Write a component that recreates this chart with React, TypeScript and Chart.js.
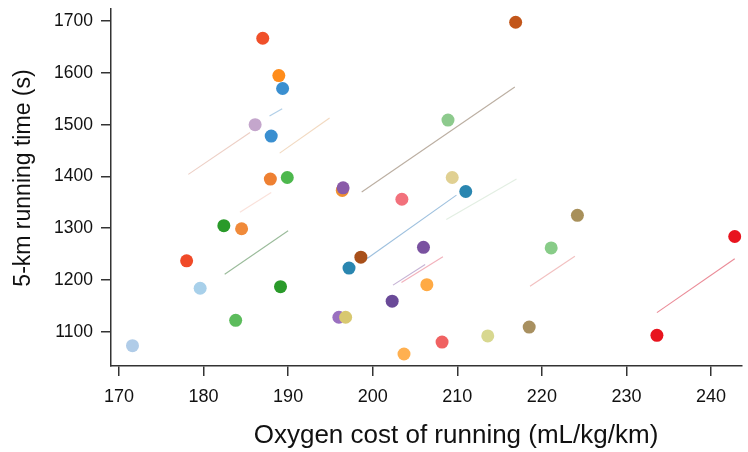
import React, { useEffect, useRef } from "react";
import { Chart, registerables } from "chart.js";

Chart.register(...registerables);

// Individual observations: oxygen cost (mL/kg/km) vs 5-km time (s)
const pointX = [187.0, 188.9, 189.35, 186.1, 188.0, 187.9, 189.9, 196.4, 196.5, 203.45, 216.9, 208.9, 209.4, 211.0, 182.4, 184.5, 178.0, 179.6, 189.1, 183.8, 171.6, 198.6, 197.2, 206.0, 206.4, 202.3, 196.0, 196.8, 203.7, 224.2, 221.1, 242.8, 233.6, 208.2, 213.6, 218.5];
const pointY = [1667, 1595, 1570, 1500, 1478, 1395, 1398, 1373, 1378, 1356, 1698, 1509, 1398, 1371, 1305, 1299, 1237, 1184, 1187, 1122, 1073, 1244, 1223, 1263, 1191, 1159, 1128, 1128, 1057, 1325, 1262, 1284, 1093, 1080, 1092, 1109];
const pointColors = ["#f0502a", "#ff8c1a", "#3a8fd0", "#c4a6cc", "#3a8fd0", "#ee8032", "#4db84d", "#f09030", "#8a5aa8", "#f2717c", "#c2561a", "#8dca8d", "#e0d092", "#2a86b0", "#2a9a2a", "#f08a3a", "#f04a28", "#a8d0ea", "#2a9a2a", "#5cbc5c", "#b0cce8", "#a8501a", "#2a86b0", "#7a52a0", "#ffaa44", "#6a4a98", "#9a70c0", "#d8c870", "#ffb050", "#a8905a", "#88cc88", "#e8141e", "#e8141e", "#f06262", "#d8d890", "#a89060"];

// Faint within-subject fit lines
const lineX1 = [178.2, 187.8, 189.0, 198.7, 182.5, 184.3, 199.3, 208.7, 202.4, 203.4, 218.6, 233.6];
const lineY1 = [1404, 1517, 1445, 1370, 1211, 1331, 1241, 1317, 1190, 1195, 1188, 1137];
const lineX2 = [185.5, 189.3, 194.9, 216.8, 190.0, 188.0, 209.9, 217.0, 206.2, 208.3, 223.9, 242.8];
const lineY2 = [1485, 1531, 1513, 1573, 1295, 1369, 1364, 1395, 1230, 1245, 1246, 1241];
const lineColors = ["rgba(220,160,140,0.5)", "rgba(100,160,210,0.5)", "rgba(230,180,130,0.5)", "rgba(150,130,110,0.65)", "rgba(100,150,100,0.65)", "rgba(240,170,150,0.35)", "rgba(60,130,190,0.5)", "rgba(160,200,160,0.3)", "rgba(140,100,170,0.5)", "rgba(230,100,120,0.5)", "rgba(230,130,130,0.5)", "rgba(220,60,80,0.6)"];

const xTicks = [170, 180, 190, 200, 210, 220, 230, 240];
const yTicks = [1100, 1200, 1300, 1400, 1500, 1600, 1700];

const xTitle = "Oxygen cost of running (mL/kg/km)";
const yTitle = "5-km running time (s)";

const FONT = "Liberation Sans, Arial, sans-serif";

const titlePlugin = {
  id: "axisTitles",
  afterDraw(chart: any) {
    const ctx = chart.ctx;
    ctx.save();
    ctx.fillStyle = "#111";
    ctx.textAlign = "center";
    ctx.textBaseline = "middle";
    ctx.font = `26px ${FONT}`;
    ctx.fillText(xTitle, 456, 436);
    ctx.translate(24, 178);
    ctx.rotate(-Math.PI / 2);
    ctx.font = `23px ${FONT}`;
    ctx.fillText(yTitle, 0, 0);
    ctx.restore();
  },
};

export default function App() {
  const ref = useRef<HTMLCanvasElement | null>(null);
  useEffect(() => {
    document.body.style.margin = "0";
    const lineSets = lineX1.map((x, i) => ({
      type: "line" as const,
      data: [
        { x, y: lineY1[i] },
        { x: lineX2[i], y: lineY2[i] },
      ],
      borderColor: lineColors[i],
      borderWidth: 1.1,
      pointRadius: 0,
      fill: false,
      order: 2,
    }));
    const chart = new Chart(ref.current as HTMLCanvasElement, {
      type: "scatter",
      data: {
        datasets: [
          ...lineSets,
          {
            type: "scatter" as const,
            data: pointX.map((x, i) => ({ x, y: pointY[i] })),
            backgroundColor: pointColors,
            borderWidth: 0,
            pointRadius: 6.5,
            order: 1,
          },
        ] as any,
      },
      plugins: [titlePlugin],
      options: {
        animation: false,
        responsive: false,
        layout: { padding: { top: 1, right: 0, left: 0, bottom: 0 } },
        plugins: { legend: { display: false }, tooltip: { enabled: false } },
        scales: {
          x: {
            type: "linear",
            min: 169.06,
            max: 243.6,
            afterFit: (s: any) => {
              s.height = 86;
            },
            afterBuildTicks: (s: any) => {
              s.ticks = xTicks.map((v) => ({ value: v }));
            },
            ticks: {
              color: "#111",
              padding: 10,
              font: { family: FONT, size: 18 },
              callback: (v: any) => String(v),
            },
            grid: { drawOnChartArea: false, drawTicks: true, tickLength: 10, color: "#333", lineWidth: 1.5 },
            border: { color: "#333", width: 1.5 },
          },
          y: {
            type: "linear",
            min: 1033.8,
            max: 1723.8,
            afterFit: (s: any) => {
              s.width = 111;
            },
            afterBuildTicks: (s: any) => {
              s.ticks = yTicks.map((v) => ({ value: v }));
            },
            ticks: {
              color: "#111",
              padding: 8,
              font: { family: FONT, size: 17.5, lineHeight: 0.1 },
              callback: (v: any) => String(v),
            },
            grid: { drawOnChartArea: false, drawTicks: true, tickLength: 10, color: "#333", lineWidth: 1.5 },
            border: { color: "#333", width: 1.5 },
          },
        },
      },
    });
    return () => chart.destroy();
  }, []);
  return (
    <div style={{ width: 748, height: 452 }}>
      <canvas ref={ref} width={748} height={452} />
    </div>
  );
}
